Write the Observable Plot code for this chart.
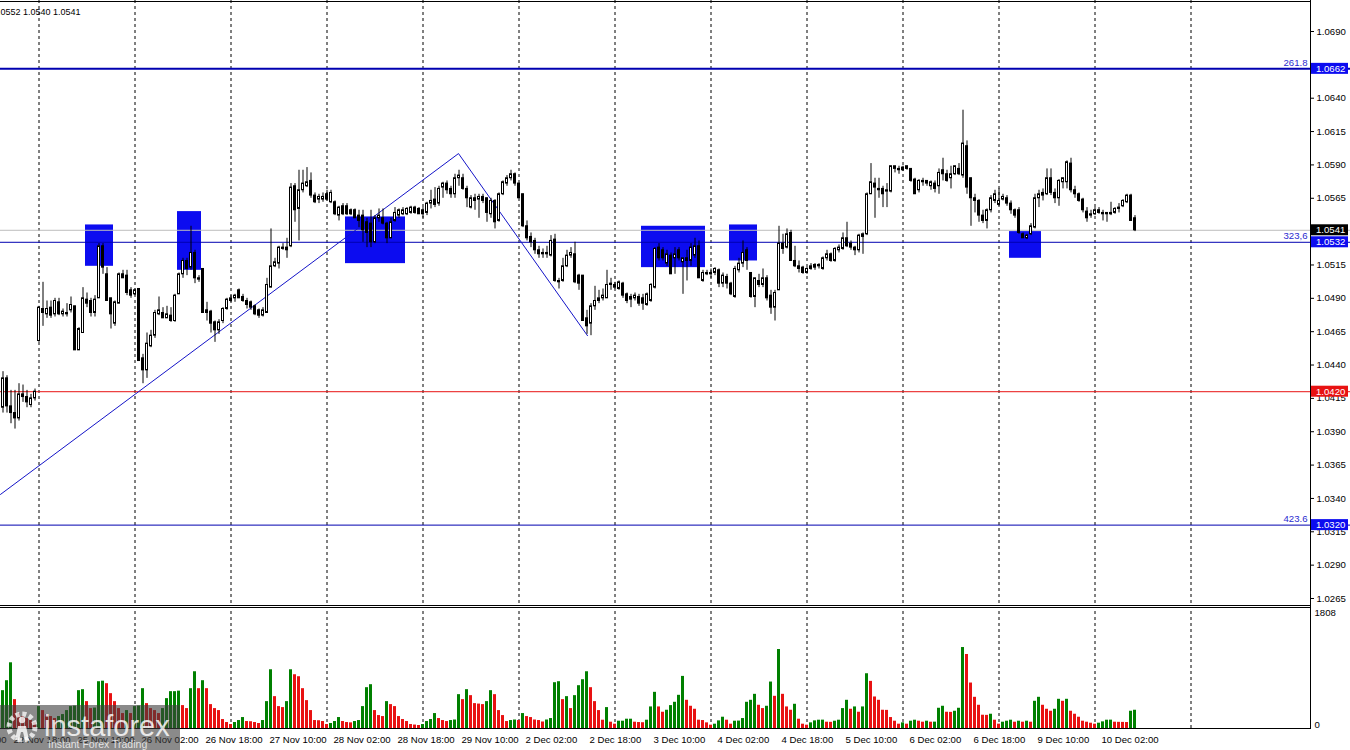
<!DOCTYPE html>
<html>
<head>
<meta charset="utf-8">
<script src="https://cdn.jsdelivr.net/npm/d3@7"></script>
<script src="https://cdn.jsdelivr.net/npm/@observablehq/plot@0.6"></script>
<style>
  html, body { margin: 0; padding: 0; background: #fff; }
  #wrap { position: relative; width: 1350px; height: 750px; overflow: hidden; background: #fff; }
  #main, #vol { position: absolute; left: 0; }
  #main { top: 0; }
  #vol { top: 607px; }
  #wm { position: absolute; left: 0; top: 705px; width: 180px; height: 45px; background: rgba(60,60,60,0.6); }
  svg text { font-family: "Liberation Sans", Arial, sans-serif; }
</style>
</head>
<body>
<div id="wrap">
  <div id="main"></div>
  <div id="vol"></div>
  <div id="wm">
    <svg width="180" height="45">
      <circle cx="22" cy="22" r="13" fill="none" stroke="rgba(255,255,255,0.75)" stroke-width="5" stroke-dasharray="4 2.8"></circle>
      <circle cx="22" cy="15" r="3.2" fill="rgba(255,255,255,0.8)"></circle>
      <path d="M15 35 L18 21 L26 21 L29 35 L25 35 L23 27 L21 27 L19 35 Z" fill="rgba(255,255,255,0.8)"></path>
      <text x="44" y="31" font-size="29" fill="rgba(255,255,255,0.82)">instaforex</text>
      <text x="48" y="43" font-size="10.5" fill="rgba(255,255,255,0.78)">Instant Forex Trading</text>
    </svg>
  </div>
</div>
<script>
// ---------- DATA (EUR/USD H1, bar index 0 = 22 Nov 15:00) ----------
const open = [
1.0408,1.0430,1.0409,1.0404,1.0400,1.0418,1.0416,1.0410,1.0415,1.0458,
1.0482,1.0478,1.0483,1.0478,1.0487,1.0478,1.0479,1.0481,1.0484,1.0451,
1.0464,1.0489,1.0488,1.0479,1.0490,1.0529,1.0508,1.0490,1.0471,1.0486,
1.0508,1.0507,1.0496,1.0493,1.0497,1.0445,1.0436,1.0454,1.0462,1.0478,
1.0479,1.0475,1.0477,1.0473,1.0493,1.0508,1.0518,1.0513,1.0524,1.0505,
1.0512,1.0481,1.0480,1.0472,1.0466,1.0473,1.0482,1.0488,1.0490,1.0496,
1.0491,1.0488,1.0487,1.0484,1.0481,1.0477,1.0479,1.0498,1.0514,1.0516,
1.0527,1.0528,1.0529,1.0574,1.0557,1.0571,1.0574,1.0578,1.0567,1.0564,
1.0564,1.0568,1.0562,1.0562,1.0552,1.0559,1.0559,1.0556,1.0556,1.0552,
1.0552,1.0547,1.0546,1.0532,1.0550,1.0550,1.0546,1.0535,1.0548,1.0552,
1.0553,1.0553,1.0554,1.0558,1.0557,1.0556,1.0554,1.0561,1.0564,1.0561,
1.0573,1.0576,1.0572,1.0568,1.0580,1.0580,1.0572,1.0558,1.0565,1.0564,
1.0566,1.0565,1.0553,1.0563,1.0548,1.0568,1.0576,1.0580,1.0583,1.0576,
1.0568,1.0544,1.0536,1.0533,1.0526,1.0523,1.0523,1.0522,1.0534,1.0503,
1.0503,1.0514,1.0522,1.0523,1.0507,1.0507,1.0475,1.0471,1.0484,1.0488,
1.0490,1.0490,1.0501,1.0500,1.0497,1.0501,1.0493,1.0491,1.0490,1.0491,
1.0490,1.0485,1.0488,1.0498,1.0528,1.0526,1.0516,1.0522,1.0520,1.0526,
1.0517,1.0520,1.0518,1.0522,1.0529,1.0503,1.0509,1.0509,1.0509,1.0511,
1.0501,1.0506,1.0501,1.0491,1.0511,1.0516,1.0526,1.0509,1.0491,1.0503,
1.0500,1.0505,1.0492,1.0483,1.0496,1.0531,1.0528,1.0539,1.0518,1.0514,
1.0513,1.0509,1.0512,1.0515,1.0514,1.0512,1.0520,1.0523,1.0518,1.0526,
1.0527,1.0535,1.0531,1.0528,1.0526,1.0536,1.0538,1.0568,1.0576,1.0572,
1.0572,1.0570,1.0570,1.0587,1.0587,1.0588,1.0589,1.0587,1.0579,1.0571,
1.0578,1.0578,1.0574,1.0576,1.0574,1.0586,1.0583,1.0580,1.0583,1.0587,
1.0582,1.0604,1.0580,1.0565,1.0563,1.0552,1.0548,1.0556,1.0563,1.0560,
1.0564,1.0565,1.0561,1.0556,1.0556,1.0538,1.0535,1.0538,1.0543,1.0565,
1.0569,1.0568,1.0580,1.0569,1.0565,1.0577,1.0577,1.0591,1.0571,1.0568,
1.0564,1.0555,1.0552,1.0553,1.0556,1.0554,1.0554,1.0554,1.0554,1.0558,
1.0559,1.0562,1.0567,1.0550];
const high = [
1.0435,1.0432,1.0421,1.0421,1.0426,1.0425,1.0421,1.0418,1.0422,1.0484,
1.0502,1.0488,1.0488,1.0490,1.0490,1.0482,1.0486,1.0491,1.0484,1.0468,
1.0498,1.0494,1.0490,1.0492,1.0531,1.0531,1.0513,1.0490,1.0488,1.0509,
1.0511,1.0511,1.0498,1.0497,1.0497,1.0448,1.0464,1.0466,1.0481,1.0491,
1.0483,1.0484,1.0483,1.0493,1.0509,1.0520,1.0520,1.0544,1.0526,1.0507,
1.0512,1.0487,1.0481,1.0473,1.0474,1.0483,1.0490,1.0492,1.0493,1.0497,
1.0493,1.0490,1.0488,1.0485,1.0482,1.0483,1.0505,1.0542,1.0520,1.0529,
1.0531,1.0535,1.0576,1.0576,1.0586,1.0586,1.0588,1.0584,1.0569,1.0568,
1.0569,1.0571,1.0571,1.0563,1.0559,1.0561,1.0561,1.0557,1.0557,1.0556,
1.0556,1.0550,1.0556,1.0552,1.0557,1.0557,1.0547,1.0550,1.0558,1.0557,
1.0558,1.0558,1.0559,1.0559,1.0558,1.0558,1.0562,1.0571,1.0573,1.0574,
1.0577,1.0578,1.0574,1.0583,1.0586,1.0583,1.0574,1.0567,1.0568,1.0568,
1.0568,1.0565,1.0565,1.0564,1.0569,1.0578,1.0582,1.0586,1.0584,1.0576,
1.0568,1.0548,1.0539,1.0535,1.0529,1.0527,1.0529,1.0537,1.0538,1.0505,
1.0520,1.0526,1.0528,1.0532,1.0508,1.0507,1.0481,1.0486,1.0499,1.0496,
1.0497,1.0511,1.0505,1.0502,1.0503,1.0502,1.0494,1.0493,1.0494,1.0493,
1.0493,1.0494,1.0501,1.0528,1.0531,1.0528,1.0526,1.0524,1.0528,1.0528,
1.0520,1.0526,1.0531,1.0535,1.0533,1.0511,1.0511,1.0512,1.0513,1.0512,
1.0509,1.0508,1.0502,1.0514,1.0520,1.0533,1.0528,1.0509,1.0505,1.0508,
1.0512,1.0507,1.0496,1.0496,1.0544,1.0538,1.0542,1.0541,1.0529,1.0518,
1.0514,1.0513,1.0516,1.0516,1.0516,1.0521,1.0526,1.0524,1.0528,1.0530,
1.0539,1.0547,1.0533,1.0529,1.0538,1.0539,1.0569,1.0591,1.0580,1.0580,
1.0574,1.0576,1.0589,1.0589,1.0589,1.0589,1.0589,1.0587,1.0580,1.0579,
1.0580,1.0578,1.0578,1.0578,1.0587,1.0595,1.0586,1.0589,1.0589,1.0591,
1.0631,1.0608,1.0580,1.0568,1.0564,1.0556,1.0557,1.0567,1.0571,1.0572,
1.0568,1.0567,1.0563,1.0557,1.0558,1.0539,1.0538,1.0546,1.0568,1.0571,
1.0572,1.0587,1.0587,1.0572,1.0579,1.0580,1.0593,1.0595,1.0574,1.0569,
1.0565,1.0558,1.0556,1.0558,1.0558,1.0556,1.0554,1.0562,1.0558,1.0561,
1.0564,1.0568,1.0568,1.0552];
const low = [
1.0404,1.0404,1.0396,1.0392,1.0398,1.0412,1.0408,1.0408,1.0413,1.0457,
1.0469,1.0475,1.0475,1.0476,1.0477,1.0476,1.0476,1.0479,1.0451,1.0451,
1.0464,1.0483,1.0476,1.0476,1.0490,1.0508,1.0488,1.0467,1.0469,1.0486,
1.0505,1.0492,1.0490,1.0492,1.0443,1.0426,1.0430,1.0453,1.0460,1.0477,
1.0475,1.0475,1.0472,1.0472,1.0493,1.0505,1.0507,1.0511,1.0501,1.0502,
1.0479,1.0473,1.0464,1.0457,1.0463,1.0471,1.0481,1.0487,1.0487,1.0490,
1.0487,1.0482,1.0481,1.0477,1.0475,1.0476,1.0479,1.0498,1.0513,1.0512,
1.0526,1.0520,1.0528,1.0547,1.0533,1.0569,1.0573,1.0565,1.0561,1.0561,
1.0562,1.0563,1.0561,1.0552,1.0548,1.0552,1.0552,1.0552,1.0550,1.0543,
1.0532,1.0528,1.0528,1.0531,1.0547,1.0545,1.0531,1.0535,1.0547,1.0550,
1.0552,1.0552,1.0553,1.0553,1.0553,1.0550,1.0552,1.0557,1.0558,1.0559,
1.0565,1.0568,1.0565,1.0565,1.0574,1.0571,1.0558,1.0557,1.0556,1.0550,
1.0561,1.0547,1.0550,1.0542,1.0547,1.0567,1.0574,1.0578,1.0574,1.0565,
1.0543,1.0533,1.0528,1.0523,1.0520,1.0520,1.0520,1.0521,1.0502,1.0497,
1.0502,1.0513,1.0520,1.0501,1.0496,1.0473,1.0463,1.0462,1.0481,1.0486,
1.0488,1.0490,1.0496,1.0497,1.0496,1.0490,1.0486,1.0483,1.0488,1.0484,
1.0481,1.0484,1.0487,1.0497,1.0518,1.0518,1.0514,1.0508,1.0508,1.0518,
1.0493,1.0503,1.0514,1.0520,1.0505,1.0502,1.0507,1.0505,1.0507,1.0498,
1.0498,1.0497,1.0492,1.0490,1.0509,1.0513,1.0511,1.0490,1.0483,1.0498,
1.0498,1.0488,1.0478,1.0473,1.0496,1.0523,1.0527,1.0518,1.0513,1.0509,
1.0508,1.0508,1.0511,1.0511,1.0512,1.0511,1.0518,1.0517,1.0517,1.0524,
1.0526,1.0528,1.0526,1.0522,1.0524,1.0523,1.0537,1.0568,1.0550,1.0565,
1.0558,1.0558,1.0569,1.0584,1.0583,1.0585,1.0586,1.0577,1.0568,1.0569,
1.0574,1.0574,1.0571,1.0569,1.0568,1.0578,1.0577,1.0572,1.0582,1.0582,
1.0580,1.0568,1.0544,1.0554,1.0547,1.0546,1.0542,1.0554,1.0561,1.0559,
1.0563,1.0559,1.0553,1.0550,1.0538,1.0535,1.0534,1.0537,1.0542,1.0558,
1.0563,1.0567,1.0567,1.0561,1.0559,1.0572,1.0572,1.0569,1.0565,1.0562,
1.0554,1.0547,1.0550,1.0552,1.0553,1.0548,1.0547,1.0552,1.0553,1.0554,
1.0558,1.0561,1.0548,1.0540];
const close = [
1.0430,1.0409,1.0404,1.0400,1.0418,1.0416,1.0412,1.0415,1.0420,1.0483,
1.0479,1.0482,1.0477,1.0488,1.0478,1.0480,1.0478,1.0485,1.0451,1.0467,
1.0490,1.0486,1.0479,1.0489,1.0529,1.0513,1.0488,1.0478,1.0487,1.0508,
1.0505,1.0494,1.0492,1.0496,1.0443,1.0436,1.0456,1.0462,1.0479,1.0481,
1.0475,1.0478,1.0473,1.0492,1.0508,1.0518,1.0512,1.0524,1.0505,1.0504,
1.0479,1.0479,1.0471,1.0466,1.0472,1.0482,1.0489,1.0490,1.0492,1.0490,
1.0488,1.0485,1.0483,1.0478,1.0477,1.0481,1.0500,1.0514,1.0517,1.0528,
1.0528,1.0526,1.0573,1.0556,1.0571,1.0576,1.0577,1.0567,1.0562,1.0566,
1.0566,1.0564,1.0569,1.0553,1.0558,1.0553,1.0553,1.0553,1.0550,1.0548,
1.0541,1.0539,1.0532,1.0550,1.0552,1.0546,1.0535,1.0547,1.0554,1.0556,
1.0556,1.0557,1.0558,1.0554,1.0553,1.0553,1.0561,1.0563,1.0560,1.0572,
1.0576,1.0571,1.0568,1.0580,1.0582,1.0572,1.0565,1.0565,1.0563,1.0566,
1.0563,1.0554,1.0563,1.0547,1.0568,1.0577,1.0580,1.0583,1.0576,1.0565,
1.0544,1.0535,1.0532,1.0526,1.0523,1.0524,1.0524,1.0533,1.0503,1.0502,
1.0514,1.0522,1.0524,1.0502,1.0501,1.0473,1.0469,1.0484,1.0488,1.0490,
1.0492,1.0500,1.0500,1.0498,1.0502,1.0492,1.0488,1.0489,1.0492,1.0486,
1.0486,1.0493,1.0500,1.0527,1.0520,1.0520,1.0523,1.0508,1.0523,1.0520,
1.0520,1.0518,1.0528,1.0529,1.0505,1.0509,1.0508,1.0508,1.0512,1.0501,
1.0507,1.0501,1.0493,1.0512,1.0516,1.0524,1.0518,1.0491,1.0505,1.0500,
1.0505,1.0490,1.0483,1.0494,1.0531,1.0527,1.0538,1.0518,1.0514,1.0512,
1.0509,1.0512,1.0514,1.0513,1.0515,1.0520,1.0523,1.0518,1.0527,1.0528,
1.0535,1.0529,1.0528,1.0526,1.0537,1.0538,1.0568,1.0577,1.0573,1.0571,
1.0568,1.0571,1.0589,1.0589,1.0586,1.0586,1.0587,1.0578,1.0568,1.0578,
1.0577,1.0576,1.0577,1.0572,1.0584,1.0583,1.0578,1.0583,1.0589,1.0583,
1.0606,1.0573,1.0565,1.0563,1.0552,1.0548,1.0556,1.0565,1.0568,1.0563,
1.0566,1.0561,1.0556,1.0552,1.0539,1.0535,1.0537,1.0544,1.0565,1.0568,
1.0567,1.0580,1.0569,1.0565,1.0578,1.0580,1.0592,1.0571,1.0568,1.0563,
1.0556,1.0550,1.0553,1.0556,1.0554,1.0553,1.0553,1.0553,1.0557,1.0557,
1.0563,1.0567,1.0548,1.0541];
const volume = [
570,720,990,435,225,180,150,120,90,330,
270,210,180,150,180,210,270,330,338,570,
585,405,300,308,705,713,675,525,405,300,
225,270,225,330,338,600,375,300,270,225,
300,450,555,555,563,345,300,600,855,600,
720,600,360,300,270,135,90,60,90,120,
165,105,102,90,75,120,405,885,480,330,
315,405,885,810,780,600,420,270,120,117,
105,60,75,105,165,105,90,85,105,120,
330,615,660,270,195,180,405,360,330,180,
135,105,60,52,45,60,105,135,225,150,
120,105,120,128,510,435,585,495,375,368,
360,405,570,510,270,195,105,120,128,120,
225,180,165,128,120,98,128,150,690,705,
435,480,300,495,645,735,855,615,405,270,
125,315,95,65,110,110,140,140,95,90,
87,125,325,545,325,245,275,345,395,500,
785,425,335,290,125,120,85,50,65,115,
170,125,65,110,112,150,395,425,515,350,
300,335,700,485,1190,515,325,275,365,140,
65,50,85,115,125,126,95,93,110,125,
300,425,290,325,245,325,825,710,475,425,
275,273,165,110,65,85,65,110,125,110,
95,110,95,96,305,335,245,243,260,305,
1220,1115,685,470,350,200,198,215,125,65,
95,110,125,95,110,95,110,95,410,470,
350,290,260,290,440,410,440,260,215,170,
110,95,80,65,80,100,125,126,95,93,
92,90,260,275];

// time-axis labels (bar index of the labelled bar)
const labelBars = [-13, 3, 19, 35, 51, 67, 83, 99, 115, 131, 147, 163, 179, 195, 211, 227, 243, 259, 275];
const labelTexts = ["22 Nov 02:00","22 Nov 18:00","25 Nov 10:00","26 Nov 02:00","26 Nov 18:00","27 Nov 10:00",
  "28 Nov 02:00","28 Nov 18:00","29 Nov 10:00","2 Dec 02:00","2 Dec 18:00","3 Dec 10:00","4 Dec 02:00",
  "4 Dec 18:00","5 Dec 10:00","6 Dec 02:00","6 Dec 18:00","9 Dec 10:00","10 Dec 02:00"];
// vertical grid bars
const gridBars = [9, 33, 57, 81, 105, 129, 153, 177, 201, 225, 249, 273, 297];
// price-axis tick labels
const priceTicks = [1.0690, 1.0640, 1.0615, 1.0590, 1.0565, 1.0515, 1.0490, 1.0465, 1.0440, 1.0415,
  1.0390, 1.0365, 1.0340, 1.0315, 1.0290, 1.0265];
// Fibonacci / level lines
const levelPrices = [1.0662, 1.0532, 1.0420, 1.0320];
const levelNames = ["261.8", "323,6", "", "423.6"];
const levelKinds = ["fib", "fib", "support", "fib"];
const bidPrice = 1.0541;
// zigzag trend lines (bar index, price)
const zigBars = [-0.5, 114, 146.25];
const zigPrices = [1.0343, 1.05985, 1.0462];
// blue signal zones (bar range, price range)
const zoneStart = [20.75, 43.75, 85.75, 159.75, 181.75, 251.75];
const zoneEnd = [27.75, 49.75, 100.75, 175.75, 188.75, 259.75];
const zoneLow = [1.0514, 1.0511, 1.0516, 1.0513, 1.0518, 1.0520];
const zoneHigh = [1.0545, 1.0555, 1.0551, 1.0544, 1.0545, 1.0540];
const headerText = "1.0552 1.0552 1.0540 1.0541";
const volMax = 1808;

// ---------- build tables ----------
const bars = open.map((o, i) => ({i, o, h: high[i], l: low[i], c: close[i]}));
const volData = volume.map((v, i) => ({i, v, up: i === 0 || v >= volume[i - 1]}));
const timeLabels = labelBars.map((b, k) => ({i: b, label: labelTexts[k]}));
const levels = levelPrices.map((p, k) => ({price: p, name: levelNames[k], kind: levelKinds[k]}));
const zig = zigBars.map((b, k) => ({i: b, p: zigPrices[k]}));
const zones = zoneStart.map((s, k) => ({i1: s, i2: zoneEnd[k], lo: zoneLow[k], hi: zoneHigh[k]}));

const FONT = "'Liberation Sans', Arial, sans-serif";
const BLUE = "#0c0cf0", NAVY = "#0000b0", RED = "#e81212", GREEN = "#008000";
const xOpt = {type: "linear", domain: [-0.5, 327], range: [0, 1310], axis: null};

const main = Plot.plot({
  width: 1350, height: 607, margin: 0,
  style: {fontFamily: FONT, fontSize: "9.6px", background: "white", color: "black"},
  x: xOpt,
  y: {type: "linear", domain: [1.025825, 1.071324], range: [607, 0], axis: null},
  marks: [
    Plot.ruleX(gridBars, {x: d => d + 0.125, stroke: "black", strokeDasharray: "3,3", strokeWidth: 1}),
    Plot.rect(zones, {x1: "i1", x2: "i2", y1: "lo", y2: "hi", fill: BLUE}),
    Plot.ruleY(levels.filter(d => d.name === "261.8"), {y: "price", stroke: NAVY, strokeWidth: 2}),
    Plot.ruleY(levels.filter(d => d.kind === "fib" && d.name !== "261.8"), {y: "price", stroke: NAVY, strokeWidth: 1}),
    Plot.ruleY(levels.filter(d => d.kind === "support"), {y: "price", stroke: RED, strokeWidth: 1}),
    Plot.text(levels.filter(d => d.name), {x: 327, y: "price", text: "name", textAnchor: "end", dx: -3, dy: -6, fill: "#2a2ad0"}),
    Plot.ruleY([bidPrice], {stroke: "#bdbdbd", strokeWidth: 1}),
    Plot.line(zig, {x: "i", y: "p", stroke: "#1414c8", strokeWidth: 1}),
    Plot.ruleX(bars, {x: d => d.i + 0.125, y1: "l", y2: "h", stroke: "black", strokeWidth: 1}),
    Plot.rect(bars, {x1: d => d.i - 0.125, x2: d => d.i + 0.375, y1: "o", y2: "c",
      fill: d => d.c >= d.o ? "white" : "black", stroke: "black", strokeWidth: 1}),
    Plot.ruleY(priceTicks, {y: d => d, x1: 327, x2: 328, stroke: "black"}),
    Plot.text(priceTicks, {x: 327, y: d => d, text: d => d.toFixed(4), textAnchor: "start", dx: 6, fill: "black"}),
    Plot.text([headerText], {frameAnchor: "top-left", dx: 80, dy: 8, textAnchor: "end", fontSize: 9, fill: "black"})
  ]
});
document.getElementById("main").appendChild(main);

// chrome + price boxes on the main panel
{
  const svg = d3.select(main);
  const ys = main.scale("y");
  const yPix = ys.apply ? (v => ys.apply(v)) : d3.scaleLinear(ys.domain, ys.range);
  const g = svg.append("g").attr("text-anchor", "start");
  g.append("line").attr("x1", 0).attr("x2", 1310).attr("y1", 1.5).attr("y2", 1.5).attr("stroke", "black");
  g.append("line").attr("x1", 0).attr("x2", 1310).attr("y1", 605.5).attr("y2", 605.5).attr("stroke", "black");
  g.append("rect").attr("x", 0).attr("y", 606).attr("width", 1350).attr("height", 1).attr("fill", "white");
  g.append("line").attr("x1", 1310.5).attr("x2", 1310.5).attr("y1", 0).attr("y2", 607).attr("stroke", "black");
  const boxes = [
    {p: levelPrices[0], bg: BLUE},
    {p: bidPrice, bg: "#000000"},
    {p: levelPrices[1], bg: BLUE},
    {p: levelPrices[2], bg: RED},
    {p: levelPrices[3], bg: BLUE}
  ];
  for (const b of boxes) {
    const y = yPix(b.p);
    g.append("rect").attr("x", 1311).attr("y", y - 5.5).attr("width", 37).attr("height", 11).attr("fill", b.bg);
    g.append("text").attr("x", 1316).attr("y", y).attr("dy", "0.35em").attr("fill", "white")
      .attr("text-anchor", "start").attr("font-size", 9.6).attr("font-family", FONT).text(b.p.toFixed(4));
  }
}

const vol = Plot.plot({
  width: 1350, height: 143, margin: 0,
  style: {fontFamily: FONT, fontSize: "9.6px", background: "transparent", color: "black"},
  x: xOpt,
  y: {type: "linear", domain: [0, volMax], range: [121, 1], axis: null},
  marks: [
    Plot.ruleX(gridBars, {x: d => d + 0.125, y1: 0, y2: volMax, stroke: "black", strokeDasharray: "3,3", strokeWidth: 1}),
    Plot.rect(volData, {x1: d => d.i - 0.25, x2: d => d.i + 0.5, y1: 0, y2: "v", fill: d => d.up ? GREEN : RED}),
    Plot.text(timeLabels, {x: "i", text: "label", frameAnchor: "bottom", dy: -8, dx: -1, textAnchor: "start", fill: "black"}),
    Plot.text([String(volMax)], {x: 327, y: volMax, dx: 4, dy: 1, textAnchor: "start", lineAnchor: "top", fill: "black"}),
    Plot.text(["0"], {x: 327, y: 0, dx: 4, dy: -1, textAnchor: "start", lineAnchor: "bottom", fill: "black"})
  ]
});
document.getElementById("vol").appendChild(vol);
{
  const g = d3.select(vol).append("g");
  g.append("line").attr("x1", 0).attr("x2", 1310).attr("y1", 0.5).attr("y2", 0.5).attr("stroke", "black");
  g.append("line").attr("x1", 0).attr("x2", 1310).attr("y1", 121.5).attr("y2", 121.5).attr("stroke", "black");
  g.append("line").attr("x1", 1310.5).attr("x2", 1310.5).attr("y1", 0).attr("y2", 122).attr("stroke", "black");
}
</script>
</body>
</html>
